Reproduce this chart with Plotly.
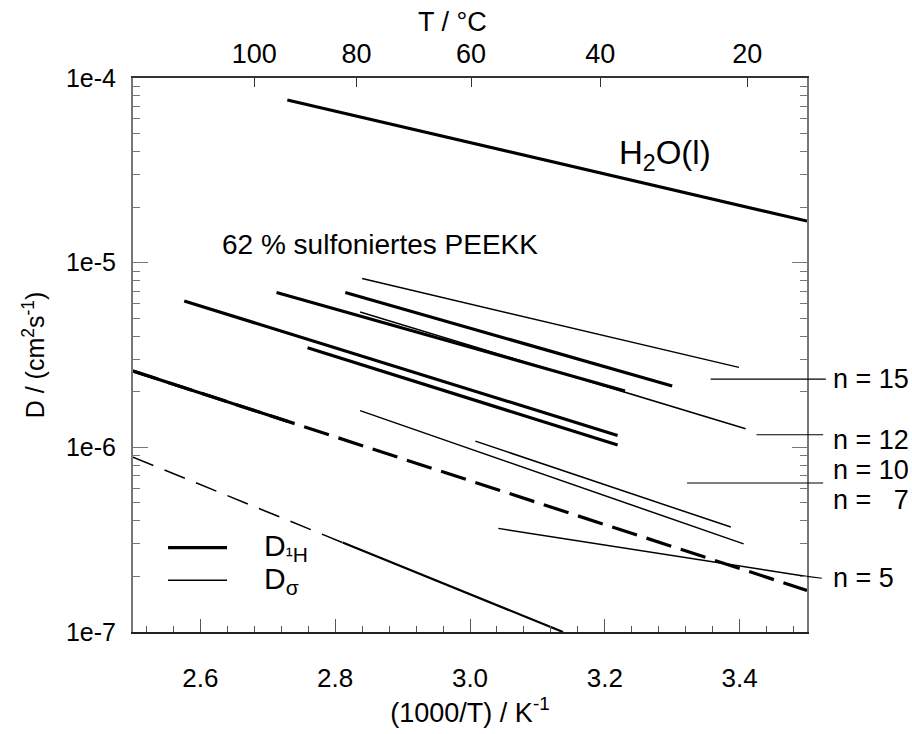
import numpy as np
import plotly.graph_objects as go

# ---------------- data (x = 1000/T in K^-1, D in cm^2 s^-1) ----------------
h2o_x = [2.729, 3.5]
h2o_d = [7.6e-5, 1.68e-5]

d1h_n15_x = [2.815, 3.300]
d1h_n15_d = [6.9e-6, 2.15e-6]
dsig_n15_x = [2.840, 3.399]
dsig_n15_d = [8.2e-6, 2.71e-6]

d1h_n12_x = [2.713, 3.230]
d1h_n12_d = [6.9e-6, 2.02e-6]
dsig_n12_x = [2.837, 3.409]
dsig_n12_d = [5.4e-6, 1.26e-6]

d1h_n10_x = [2.576, 3.219]
d1h_n10_d = [6.2e-6, 1.16e-6]
d1h_n7_x = [2.759, 3.219]
d1h_n7_d = [3.46e-6, 1.03e-6]

dsig_n10_x = [3.008, 3.387]
dsig_n10_d = [1.08e-6, 3.7e-7]
dsig_n7_x = [2.837, 3.406]
dsig_n7_d = [1.58e-6, 3.0e-7]

dsig_n5_x = [3.042, 3.5]
dsig_n5_d = [3.64e-7, 2.0e-7]

d1h_n5_x = [2.5, 2.73]
d1h_n5_d = [2.59e-6, 1.38e-6]
d1h_n5_fit_x = [2.5, 3.5]
d1h_n5_fit_d = [2.59e-6, 1.68e-7]

low_fit_x = [2.5, 2.811]
low_fit_d = [8.85e-7, 3.05e-7]
low_x = [2.811, 3.138]
low_d = [3.05e-7, 1.0e-7]

# top axis (Celsius)
celsius_ticks = [100, 80, 60, 40, 20]

# y-axis decades
y_major = [1e-7, 1e-6, 1e-5, 1e-4]
y_major_text = ["1e-7", "1e-6", "1e-5", "1e-4"]

# right-hand labels: text, label level D, leader start x, leader level D
n_labels = ["n = 15", "n = 12", "n = 10", "n = \u20077", "n = 5"]
n_label_d = [2.34e-6, 1.10e-6, 7.55e-7, 5.21e-7, 1.955e-7]
leaders_x0 = [3.357, 3.425, 3.322, 3.5]
leaders_d0 = [2.34e-6, 1.17e-6, 6.41e-7, 2.0e-7]
leaders_x1 = [3.528, 3.524, 3.524, 3.522]
leaders_d1 = [2.34e-6, 1.17e-6, 6.41e-7, 1.955e-7]

XMIN, XMAX = 2.5, 3.5
YMIN, YMAX = 1e-7, 1e-4

def px(x):
    return (x - XMIN) / (XMAX - XMIN)

def py(d):
    return (np.log10(d) - np.log10(YMIN)) / (np.log10(YMAX) - np.log10(YMIN))

NARROW = "Liberation Sans Narrow, Arial Narrow, Liberation Sans, Arial, sans-serif"
REG = "Liberation Sans, Arial, sans-serif"
BOLD_W = 3.2
THIN_W = 1.5

fig = go.Figure()

def add_line(x, y, width, dash="solid"):
    fig.add_trace(go.Scatter(x=x, y=y, mode="lines",
                             line=dict(color="black", width=width, dash=dash),
                             showlegend=False, hoverinfo="skip"))

add_line(h2o_x, h2o_d, BOLD_W)
add_line(dsig_n15_x, dsig_n15_d, THIN_W)
add_line(d1h_n15_x, d1h_n15_d, BOLD_W)
add_line(dsig_n12_x, dsig_n12_d, THIN_W)
add_line(d1h_n12_x, d1h_n12_d, BOLD_W)
add_line(d1h_n10_x, d1h_n10_d, BOLD_W)
add_line(d1h_n7_x, d1h_n7_d, BOLD_W)
add_line(dsig_n10_x, dsig_n10_d, THIN_W)
add_line(dsig_n7_x, dsig_n7_d, THIN_W)
add_line(dsig_n5_x, dsig_n5_d, THIN_W)
add_line(d1h_n5_fit_x, d1h_n5_fit_d, BOLD_W, dash="26px,10px")
add_line(d1h_n5_x, d1h_n5_d, BOLD_W)
add_line(low_fit_x, low_fit_d, THIN_W, dash="22px,12px")
add_line(low_x, low_d, 2.2)

# invisible trace to activate the top Celsius axis
fig.add_trace(go.Scatter(x=[XMIN, XMAX], y=[YMAX, YMAX], xaxis="x2", mode="lines",
                         line=dict(width=0), opacity=0, showlegend=False,
                         hoverinfo="skip"))

shapes = []
for x0, d0, x1, d1 in zip(leaders_x0, leaders_d0, leaders_x1, leaders_d1):
    shapes.append(dict(type="line", xref="paper", yref="paper",
                       x0=px(x0), y0=py(d0), x1=px(x1), y1=py(d1),
                       line=dict(color="black", width=1.2)))

# custom legend
leg_x0, leg_x1 = 0.052, 0.1395
leg_y = [0.1523, 0.0932]
leg_w = [BOLD_W, THIN_W]
for yy, ww in zip(leg_y, leg_w):
    shapes.append(dict(type="line", xref="paper", yref="paper",
                       x0=leg_x0, x1=leg_x1, y0=yy, y1=yy,
                       line=dict(color="black", width=ww)))

annotations = []
for t, d in zip(n_labels, n_label_d):
    annotations.append(dict(text=t, xref="paper", yref="paper", x=1.035, y=py(d),
                            xanchor="left", yanchor="middle", showarrow=False,
                            font=dict(family=REG, size=27, color="black")))

annotations.append(dict(text="62 % sulfoniertes PEEKK", x=2.8665, y=np.log10(1.26e-5),
                        xref="x", yref="y", showarrow=False,
                        font=dict(family=REG, size=28, color="black")))
annotations.append(dict(text="H<sub>2</sub>O(l)", x=3.289, y=np.log10(3.85e-5),
                        xref="x", yref="y", showarrow=False,
                        font=dict(family=REG, size=33, color="black")))
annotations.append(dict(text="D<sub>\u00b9H</sub>", xref="paper", yref="paper",
                        x=0.1914, y=leg_y[0], xanchor="left", yanchor="middle",
                        showarrow=False, font=dict(family=REG, size=30, color="black")))
annotations.append(dict(text="D<sub>\u03c3</sub>", xref="paper", yref="paper",
                        x=0.1914, y=leg_y[1], xanchor="left", yanchor="middle",
                        showarrow=False, font=dict(family=REG, size=30, color="black")))
# top axis title
annotations.append(dict(text="T / \u00b0C", xref="paper", yref="paper", x=0.474, y=1.1004,
                        xanchor="center", yanchor="middle", showarrow=False,
                        font=dict(family=NARROW, size=27, color="black")))

celsius_pos = [1000.0 / (c + 273.15) for c in celsius_ticks]
y_minor = [k * 10.0 ** e for e in range(-7, -4) for k in range(2, 10)]

fig.update_layout(
    width=912, height=734,
    margin=dict(l=133, r=105, t=78, b=98),
    paper_bgcolor="white", plot_bgcolor="white",
    showlegend=False,
    shapes=shapes,
    annotations=annotations,
    xaxis=dict(range=[XMIN, XMAX], showgrid=False, zeroline=False,
               showline=True, linecolor="#222", linewidth=2, mirror=False,
               tick0=2.6, dtick=0.2, tickformat=".1f",
               ticks="inside", ticklen=13, tickwidth=1.2, tickcolor="#555",
               ticklabelstandoff=22,
               minor=dict(dtick=0.04, ticks="inside", ticklen=6, tickwidth=1.2,
                          tickcolor="#555", showgrid=False),
               tickfont=dict(family=NARROW, size=26, color="black"),
               title=dict(text="(1000/T) / K<sup>-1</sup>", standoff=10,
                          font=dict(family=NARROW, size=27, color="black"))),
    xaxis2=dict(range=[XMIN, XMAX], overlaying="x", side="top", anchor="y",
                showgrid=False, zeroline=False, showline=True, linecolor="#333",
                linewidth=2, tickmode="array", tickvals=celsius_pos,
                ticktext=[str(c) for c in celsius_ticks],
                ticks="inside", ticklen=9, tickwidth=1.2, tickcolor="#333",
                ticklabelstandoff=2,
                tickfont=dict(family=NARROW, size=27, color="black")),
    yaxis=dict(type="log", range=[np.log10(YMIN), np.log10(YMAX)],
               showgrid=False, zeroline=False, showline=True, linecolor="#777",
               linewidth=2, mirror="ticks",
               tickmode="array", tickvals=y_major, ticktext=y_major_text,
               ticks="inside", ticklen=15, tickwidth=1.2, tickcolor="#777",
               ticklabelstandoff=10,
               minor=dict(tickvals=y_minor, ticks="inside", ticklen=7, tickwidth=1.2,
                          tickcolor="#777", showgrid=False),
               tickfont=dict(family=REG, size=25, color="black"),
               title=dict(text="D / (cm<sup>2</sup>s<sup>-1</sup>)", standoff=14,
                          font=dict(family=REG, size=25, color="black"))),
)

fig.write_html("out.html")
